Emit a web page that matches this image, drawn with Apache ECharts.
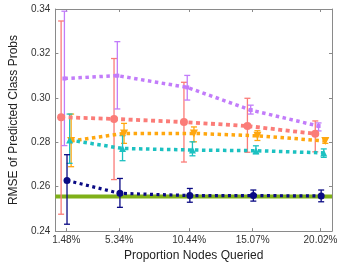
<!DOCTYPE html>
<html><head><meta charset="utf-8">
<script src="https://cdn.jsdelivr.net/npm/echarts@6/dist/echarts.min.js"></script>
<style>html,body{margin:0;padding:0;background:#fff}#c{width:341px;height:267px}</style>
</head><body><div id="c"></div>
<script>
const xValues = [1.48, 5.34, 10.44, 15.07, 20.02];
const yTicks = [0.24, 0.26, 0.28, 0.30, 0.32, 0.34];

const violetMean = [0.3087, 0.3100, 0.3047, 0.2945, 0.2873];
const violetLo   = [0.2785, 0.2950, 0.2990, 0.2927, 0.2851];
const violetHi   = [0.3390, 0.3253, 0.3101, 0.2967, 0.2887];

const salmonMean = [0.2913, 0.2905, 0.2891, 0.2873, 0.2838];
const salmonLo   = [0.2476, 0.2632, 0.2711, 0.2755, 0.2757];
const salmonHi   = [0.3346, 0.3177, 0.3070, 0.2998, 0.2896];

const orangeMean = [0.2806, 0.2840, 0.2840, 0.2829, 0.2806];
const orangeLo   = [0.2690, 0.2795, 0.2802, 0.2808, 0.2795];
const orangeHi   = [0.2927, 0.2885, 0.2869, 0.2852, 0.2818];

const cyanMean = [0.2810, 0.2772, 0.2765, 0.2762, 0.2752];
const cyanLo   = [0.2705, 0.2717, 0.2739, 0.2748, 0.2732];
const cyanHi   = [0.2927, 0.2830, 0.2802, 0.2784, 0.2770];

const navyMean = [0.2628, 0.2570, 0.2560, 0.2560, 0.2558];
const navyLo   = [0.2431, 0.2507, 0.2530, 0.2535, 0.2532];
const navyHi   = [0.2744, 0.2637, 0.2592, 0.2585, 0.2585];

const baseline = 0.2556;

const X_MIN = 0.68, X_MAX = 20.86;

const chart = echarts.init(document.getElementById('c'), null, {renderer:'canvas'});

function errRender(color){
  return function(params, api){
    const x = api.value(0), lo = api.value(1), hi = api.value(2);
    const p1 = api.coord([x, lo]), p2 = api.coord([x, hi]);
    const w = 3;
    const st = {stroke: color, lineWidth: 1.3};
    return {type:'group', children:[
      {type:'line', shape:{x1:p1[0],y1:p1[1],x2:p2[0],y2:p2[1]}, style:st},
      {type:'line', shape:{x1:p1[0]-w,y1:p1[1],x2:p1[0]+w,y2:p1[1]}, style:st},
      {type:'line', shape:{x1:p2[0]-w,y1:p2[1],x2:p2[0]+w,y2:p2[1]}, style:st}
    ]};
  };
}

function makeSeries(name, color, mean, lo, hi, offset, symbol, size, rot, dash, lw){
  const pts = xValues.map((x,i)=>[x+offset, mean[i]]);
  const errs = xValues.map((x,i)=>[x+offset, lo[i], hi[i]]);
  return [
    {type:'custom', name:name+'_err', renderItem:errRender(color), data:errs, z:3, silent:true,
     encode:{x:0, y:[1,2]}},
    {type:'line', name:name, data:pts, symbol:symbol, symbolSize:size, symbolRotate:rot,
     lineStyle:{color:color, width:lw, type:dash, cap:'butt'}, itemStyle:{color:color},
     z:4, silent:true}
  ];
}

const series = [
  {type:'line', name:'base', data:[[X_MIN, baseline],[X_MAX, baseline]], symbol:'none', silent:true,
   lineStyle:{color:'#7fb018', width:4, type:'solid'}, z:1},
  ...makeSeries('salmon', '#fb7c78', salmonMean, salmonLo, salmonHi, -0.38, 'circle', 8, 0, [4,3.5], 3.8),
  ...makeSeries('violet', '#c27cfa', violetMean, violetLo, violetHi, -0.14, 'rect', 4, 0, [3.5,3.5], 3.5),
  ...makeSeries('orange', '#ffa70f', orangeMean, orangeLo, orangeHi, 0.35, 'triangle', 8, 180, [3.5,3.5], 3.5),
  ...makeSeries('cyan', '#1cc1c1', cyanMean, cyanLo, cyanHi, 0.24, 'triangle', 7, 0, [3.5,3.5], 3.5),
  ...makeSeries('navy', '#0a0a84', navyMean, navyLo, navyHi, 0.05, 'circle', 7, 0, [3,3.5], 3.2)
];

const axisGray = '#8a8a8a';
chart.setOption({
  animation:false,
  backgroundColor:'#fff',
  grid:{left:43.5, right:9, top:9, bottom:34, show:false},
  xAxis:[{
    type:'value', min:X_MIN, max:X_MAX, position:'bottom',
    name:'Proportion Nodes Queried', nameLocation:'middle', nameGap:15,
    nameTextStyle:{fontFamily:'Liberation Sans', fontSize:12, color:'#222'},
    axisLine:{show:true, onZero:false, lineStyle:{color:axisGray, width:1}},
    axisTick:{show:true, inside:true, length:3, customValues:xValues, lineStyle:{color:axisGray}},
    axisLabel:{customValues:xValues, formatter:v=>v.toFixed(2)+'%', fontFamily:'Liberation Sans', fontSize:10, color:'#333', margin:4},
    splitLine:{show:false}
  },{
    type:'value', min:X_MIN, max:X_MAX, position:'top',
    axisLine:{show:true, onZero:false, lineStyle:{color:axisGray, width:1}},
    axisTick:{show:true, inside:true, length:3, customValues:xValues, lineStyle:{color:axisGray}},
    axisLabel:{show:false}, splitLine:{show:false}
  }],
  yAxis:[{
    type:'value', min:0.24, max:0.34, interval:0.02, position:'left',
    name:'RMSE of Predicted Class Probs', nameLocation:'middle', nameGap:34,
    nameTextStyle:{fontFamily:'Liberation Sans', fontSize:12, color:'#222'},
    axisLine:{show:true, onZero:false, lineStyle:{color:axisGray, width:1}},
    axisTick:{show:true, inside:true, length:3, lineStyle:{color:axisGray}},
    axisLabel:{formatter:v=>v.toFixed(2), fontFamily:'Liberation Sans', fontSize:10, color:'#333', margin:5},
    splitLine:{show:false}
  },{
    type:'value', min:0.24, max:0.34, interval:0.02, position:'right',
    axisLine:{show:true, onZero:false, lineStyle:{color:axisGray, width:1}},
    axisTick:{show:true, inside:true, length:3, lineStyle:{color:axisGray}},
    axisLabel:{show:false}, splitLine:{show:false}
  }],
  series: series
});
</script></body></html>
